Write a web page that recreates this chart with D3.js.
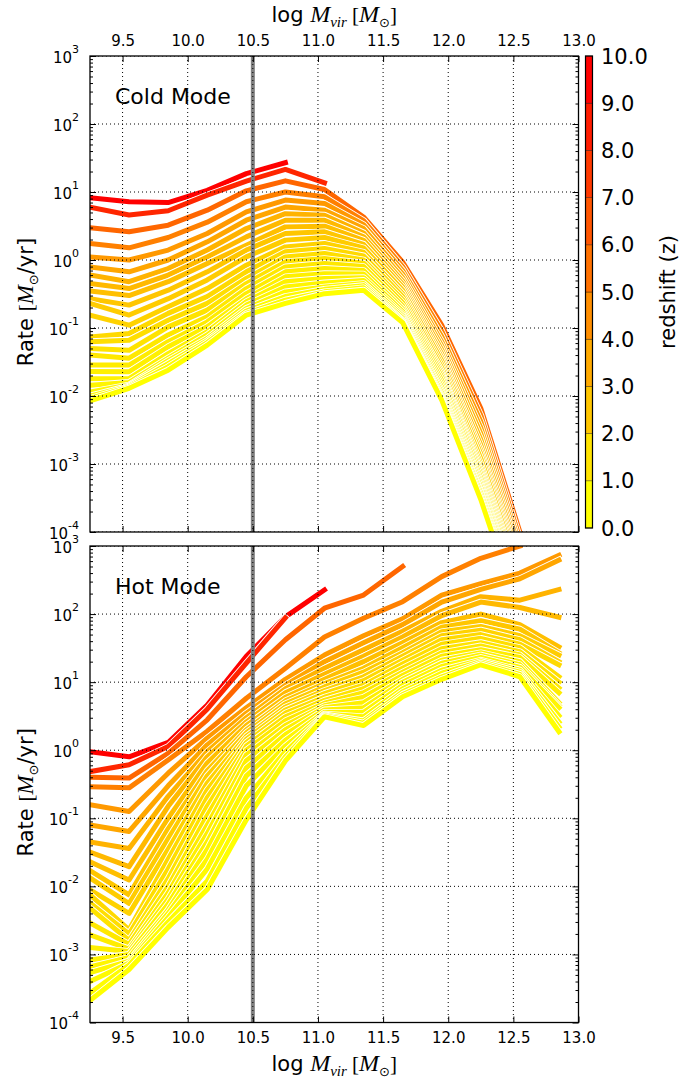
<!DOCTYPE html>
<html>
<head>
<meta charset="utf-8">
<script src="https://cdn.jsdelivr.net/npm/d3@7"></script>
<style>
body { margin: 0; background: #fff; }
text { font-family: "DejaVu Sans", sans-serif; }
</style>
</head>
<body>
<div id="chart"></div>
<script>
// halo mass bins (log Mvir)
var mass = [9.25, 9.55, 9.85, 10.15, 10.45, 10.75, 11.05, 11.35, 11.65, 11.95, 12.25, 12.55, 12.85];

// snapshot redshifts, one line per snapshot (same order as the rate rows)
var redshift = [10, 8.5, 6, 5, 4, 3.5, 3, 2.75, 2.5, 2.25, 2, 1.75, 1.5, 1.3, 1.1, 0.9, 0.75, 0.6, 0.5, 0.4, 0.3, 0.2, 0.1, 0];

// cold mode accretion rate [Msun/yr]
var coldRate = [
    [8.2, 7.2, 7.0, 10.6, 18.6, 27, null, null, null, null, null, null, null],
    [6.0, 4.6, 5.3, 9.0, 14.5, 21.5, 13.6, null, null, null, null, null, null],
    [2.97, 2.6, 3.25, 5.4, 10.4, 14.6, 10.9, 4.3, 0.93, 0.11, 0.0066, 0.0001, null],
    [1.75, 1.51, 2.14, 3.6, 7.2, 10, 8.5, 3.8, 0.80, 0.090, 0.0052, 0.00008, null],
    [1.11, 1.0, 1.40, 2.45, 5.1, 7.6, 6.8, 3.3, 0.70, 0.075, 0.0042, 0.000065, null],
    [0.79, 0.67, 1.0, 1.85, 3.85, 6.0, 5.4, 2.9, 0.62, 0.063, 0.0034, 0.000055, null],
    [0.60, 0.48, 0.75, 1.40, 2.9, 4.8, 4.56, 2.5, 0.55, 0.055, 0.0028, 0.000046, null],
    [0.45, 0.38, 0.60, 1.11, 2.19, 3.85, 3.85, 2.2, 0.49, 0.048, 0.0023, 0.00004, null],
    [0.35, 0.30, 0.48, 0.89, 1.65, 3.07, 3.14, 1.95, 0.44, 0.042, 0.0019, 0.000034, null],
    [0.27, 0.217, 0.36, 0.67, 1.4, 2.45, 2.6, 1.7, 0.40, 0.037, 0.0016, 0.00003, null],
    [0.23, 0.155, 0.27, 0.51, 1.11, 1.96, 2.14, 1.5, 0.36, 0.033, 0.0014, 0.000026, null],
    [0.155, 0.11, 0.205, 0.38, 0.84, 1.56, 1.75, 1.3, 0.32, 0.029, 0.0012, 0.000023, null],
    [0.074, 0.083, 0.164, 0.29, 0.67, 1.32, 1.48, 1.15, 0.29, 0.026, 0.001, 0.00002, null],
    [0.063, 0.066, 0.13, 0.23, 0.535, 1.11, 1.25, 1.0, 0.26, 0.023, 0.00088, 0.000018, null],
    [0.050, 0.047, 0.104, 0.183, 0.45, 0.94, 1.05, 0.9, 0.235, 0.021, 0.00078, 0.000016, null],
    [0.040, 0.036, 0.079, 0.146, 0.38, 0.79, 0.89, 0.8, 0.21, 0.019, 0.0007, 0.000014, null],
    [0.0285, 0.0285, 0.063, 0.123, 0.32, 0.67, 0.75, 0.7, 0.19, 0.017, 0.00062, 0.0000125, null],
    [0.023, 0.0227, 0.053, 0.104, 0.27, 0.565, 0.63, 0.62, 0.175, 0.015, 0.00055, 0.000011, null],
    [0.018, 0.018, 0.042, 0.088, 0.243, 0.48, 0.535, 0.55, 0.16, 0.0135, 0.0005, 0.00001, null],
    [0.0144, 0.0158, 0.036, 0.079, 0.217, 0.40, 0.46, 0.50, 0.15, 0.012, 0.00045, 0.000009, null],
    [0.0114, 0.0145, 0.033, 0.070, 0.194, 0.34, 0.40, 0.45, 0.14, 0.011, 0.0004, 0.000008, null],
    [0.0100, 0.0140, 0.030, 0.065, 0.178, 0.29, 0.37, 0.42, 0.13, 0.010, 0.00037, 0.000007, null],
    [0.0092, 0.0135, 0.027, 0.061, 0.164, 0.257, 0.34, 0.39, 0.125, 0.0093, 0.00033, 0.0000065, null],
    [0.0085, 0.013, 0.024, 0.056, 0.155, 0.23, 0.32, 0.36, 0.12, 0.0087, 0.0003, 0.000006, null]
];

// hot mode accretion rate [Msun/yr]
var hotRate = [
    [0.95, 0.80, 1.30, 4.6, 24, 91, 226, null, null, null, null, null, null],
    [0.485, 0.61, 1.13, 4.0, 19, 88, null, null, null, null, null, null, null],
    [0.40, 0.39, 0.90, 2.8, 12, 42, 122, 190, 500, null, null, null, null],
    [0.29, 0.28, 0.72, 1.9, 5.8, 16, 46, 87, 152, 355, 660, 1000, null],
    [0.158, 0.126, 0.46, 1.5, 4.2, 11, 25, 48, 85, 190, 280, 400, 730],
    [0.080, 0.064, 0.30, 1.2, 3.5, 9.0, 20, 38, 70, 150, 230, 330, 620],
    [0.045, 0.036, 0.21, 0.95, 3.0, 8.0, 16, 30, 56, 110, 180, 160, 230],
    [0.032, 0.0195, 0.15, 0.80, 2.6, 7.0, 13, 24, 46, 95, 150, 125, 90],
    [0.023, 0.0124, 0.10, 0.65, 2.3, 6.0, 11, 20, 38, 75, 100, 70, 33],
    [0.017, 0.0075, 0.07, 0.50, 2.0, 5.3, 9.5, 16, 32, 64, 80, 60, 27],
    [0.0133, 0.0056, 0.05, 0.42, 1.8, 4.8, 8.5, 14, 27, 55, 66, 48, 25],
    [0.0089, 0.004, 0.035, 0.33, 1.6, 4.3, 7.5, 12, 24, 48, 58, 42, 20],
    [0.0075, 0.0023, 0.025, 0.26, 1.45, 3.9, 6.8, 10.5, 21, 42, 50, 36, 18],
    [0.0057, 0.0020, 0.018, 0.20, 1.3, 3.5, 6.0, 9.0, 18.5, 36, 44, 32, 12],
    [0.0048, 0.0016, 0.013, 0.15, 1.15, 3.1, 5.4, 8.0, 16, 31, 38, 28, 10],
    [0.0029, 0.0014, 0.010, 0.11, 1.0, 2.7, 4.9, 7.0, 14, 27, 34, 25, 8.2],
    [0.00194, 0.0012, 0.008, 0.08, 0.85, 2.3, 4.5, 6.0, 12.5, 24, 30, 23, 7.0],
    [0.00126, 0.0011, 0.0065, 0.06, 0.70, 2.0, 4.2, 5.0, 11, 21, 27, 20, 5.0],
    [0.00083, 0.0010, 0.0055, 0.045, 0.55, 1.7, 3.9, 4.2, 10, 19, 25, 18, 4.5],
    [0.00066, 0.0009, 0.0045, 0.035, 0.42, 1.4, 3.6, 3.6, 9.0, 17, 23, 16.5, 4.2],
    [0.00054, 0.0008, 0.004, 0.025, 0.30, 1.15, 3.4, 3.1, 8.0, 15, 21, 15, 3.2],
    [0.0004, 0.00075, 0.0035, 0.018, 0.20, 0.95, 3.3, 2.7, 7.2, 13.5, 20, 14, 2.6],
    [0.00027, 0.0007, 0.003, 0.012, 0.14, 0.80, 3.2, 2.5, 6.6, 12, 19, 13, 2.2],
    [0.00021, 0.0006, 0.0025, 0.009, 0.095, 0.70, 3.1, 2.3, 6.1, 11, 18, 12, 1.87]
];

var xTicks = [9.5, 10.0, 10.5, 11.0, 11.5, 12.0, 12.5, 13.0];
var yExponents = [-4, -3, -2, -1, 0, 1, 2, 3];
var zTicks = [0, 1, 2, 3, 4, 5, 6, 7, 8, 9, 10];
var massCut = 10.5;

var width = 698, height = 1082;
var left = 90, right = 578.5;
var panels = [
    { rates: coldRate, top: 56, bottom: 532, label: "Cold Mode", topAxis: true },
    { rates: hotRate, top: 546, bottom: 1022.5, label: "Hot Mode", topAxis: false }
];

var svg = d3.select("#chart").append("svg")
    .attr("width", width)
    .attr("height", height);

var x = d3.scaleLinear().domain([9.25, 13.0]).range([left, right]);

// autumn_r colour map
function zColor(z) {
    var t = Math.max(0, Math.min(1, z / 10));
    return d3.rgb(255, Math.round(255 * (1 - t)), 0).toString();
}

var minorTicks = [];
yExponents.forEach(function (e) {
    if (e == 3) return;
    for (var k = 2; k < 10; k++) minorTicks.push(k * Math.pow(10, e));
});

function mathLabel(sel, parts) {
    parts.forEach(function (p) {
        var t = sel.append("tspan").text(p.t);
        if (p.it) t.attr("font-family", "Liberation Serif, serif").attr("font-style", "italic");
        if (p.serif) t.attr("font-family", "Liberation Serif, serif");
        if (p.size) t.attr("font-size", p.size);
        if (p.dy) t.attr("dy", p.dy);
    });
}

panels.forEach(function (p, pi) {
    var y = d3.scaleLog().domain([1e-4, 1e3]).range([p.bottom, p.top]);
    var g = svg.append("g");

    svg.append("clipPath").attr("id", "clip" + pi)
        .append("rect")
        .attr("x", left).attr("y", p.top)
        .attr("width", right - left).attr("height", p.bottom - p.top);

    var plot = g.append("g").attr("clip-path", "url(#clip" + pi + ")");

    var line = d3.line()
        .defined(function (d) { return d[1] != null; })
        .x(function (d) { return x(d[0]); })
        .y(function (d) { return y(d[1]); });

    // each line gets a thin white edge, high z drawn first
    p.rates.forEach(function (r, i) {
        var pts = mass.map(function (m, j) { return [m, r[j]]; });
        plot.append("path")
            .attr("d", line(pts))
            .attr("fill", "none")
            .attr("stroke", "#fff")
            .attr("stroke-width", 6.8)
            .attr("stroke-linejoin", "round")
            .attr("stroke-linecap", "square");
        plot.append("path")
            .attr("d", line(pts))
            .attr("fill", "none")
            .attr("stroke", zColor(redshift[i]))
            .attr("stroke-width", 5)
            .attr("stroke-linejoin", "round")
            .attr("stroke-linecap", "square");
    });

    // mass cut marker
    plot.append("line")
        .attr("x1", x(massCut)).attr("x2", x(massCut))
        .attr("y1", p.top).attr("y2", p.bottom)
        .attr("stroke", "#808080")
        .attr("stroke-width", 4);

    // dotted grid
    plot.selectAll(".gx").data(xTicks).enter().append("line")
        .attr("x1", function (d) { return x(d); }).attr("x2", function (d) { return x(d); })
        .attr("y1", p.top).attr("y2", p.bottom)
        .attr("stroke", "#000").attr("stroke-width", 1)
        .attr("stroke-dasharray", "1,3");
    plot.selectAll(".gy").data(yExponents).enter().append("line")
        .attr("x1", left).attr("x2", right)
        .attr("y1", function (d) { return y(Math.pow(10, d)); })
        .attr("y2", function (d) { return y(Math.pow(10, d)); })
        .attr("stroke", "#000").attr("stroke-width", 1)
        .attr("stroke-dasharray", "1,3");

    // ticks, pointing inward on all four sides
    var yMajor = yExponents.map(function (e) { return Math.pow(10, e); });
    var axL = g.append("g").attr("transform", "translate(" + left + ",0)")
        .call(d3.axisLeft(y).tickValues(yMajor).tickSize(-6).tickSizeOuter(0).tickPadding(12)
            .tickFormat(function () { return ""; }));
    g.append("g").attr("transform", "translate(" + left + ",0)")
        .call(d3.axisLeft(y).tickValues(minorTicks).tickSize(-3).tickSizeOuter(0).tickFormat(""));
    g.append("g").attr("transform", "translate(" + right + ",0)")
        .call(d3.axisRight(y).tickValues(yMajor).tickSize(-6).tickSizeOuter(0).tickFormat(""));
    g.append("g").attr("transform", "translate(" + right + ",0)")
        .call(d3.axisRight(y).tickValues(minorTicks).tickSize(-3).tickSizeOuter(0).tickFormat(""));

    var fmt = function (d) { return d3.format(".1f")(d); };
    g.append("g").attr("transform", "translate(0," + p.top + ")")
        .call(d3.axisTop(x).tickValues(xTicks).tickSize(-6).tickSizeOuter(0).tickPadding(10)
            .tickFormat(p.topAxis ? fmt : ""));
    g.append("g").attr("transform", "translate(0," + p.bottom + ")")
        .call(d3.axisBottom(x).tickValues(xTicks).tickSize(-6).tickSizeOuter(0).tickPadding(10)
            .tickFormat(p.topAxis ? "" : fmt));

    g.selectAll(".domain").remove();
    g.selectAll(".tick line").attr("stroke", "#000").attr("stroke-width", 1);
    g.selectAll(".tick text")
        .attr("font-family", "DejaVu Sans, sans-serif")
        .attr("font-size", 15)
        .attr("fill", "#000");

    // 10^n labels
    axL.selectAll(".tick text").each(function (d) {
        var t = d3.select(this).attr("dy", null).attr("y", 6).attr("x", -11);
        t.text("");
        t.append("tspan").text("10");
        t.append("tspan").attr("dy", -10).attr("font-size", 11)
            .text(String(Math.round(Math.log10(d))));
    });

    // frame
    g.append("rect")
        .attr("x", left).attr("y", p.top)
        .attr("width", right - left).attr("height", p.bottom - p.top)
        .attr("fill", "none").attr("stroke", "#000").attr("stroke-width", 1.3);

    g.append("text")
        .attr("x", 115).attr("y", p.top + 48)
        .attr("font-size", 22)
        .text(p.label);

    var yl = g.append("text")
        .attr("transform", "translate(33," + ((p.top + p.bottom) / 2 + 8) + ") rotate(-90)")
        .attr("text-anchor", "middle")
        .attr("font-size", 21);
    mathLabel(yl, [
        { t: "Rate " },
        { t: "[", serif: true },
        { t: "M", it: true, size: 23 },
        { t: "\u2299", size: 13, dy: 5 },
        { t: "/yr]", dy: -5 }
    ]);
});

// x axis titles
[{ y: 22 }, { y: 1071 }].forEach(function (d) {
    var t = svg.append("text")
        .attr("x", (left + right) / 2)
        .attr("y", d.y)
        .attr("text-anchor", "middle")
        .attr("font-size", 21);
    mathLabel(t, [
        { t: "log " },
        { t: "M", it: true, size: 24 },
        { t: "vir", it: true, size: 15, dy: 5 },
        { t: " [", serif: true, dy: -5 },
        { t: "M", it: true, size: 24 },
        { t: "\u2299", size: 13, dy: 5 },
        { t: "]", serif: true, dy: -5 }
    ]);
});

// colour bar
var cbLeft = 585.5, cbWidth = 7;
var zs = d3.scaleLinear().domain([0, 10]).range([528, 56]);
var cb = svg.append("g");
cb.selectAll("rect.bin").data(d3.range(10)).enter().append("rect")
    .attr("x", cbLeft)
    .attr("y", function (d) { return zs(d + 1); })
    .attr("width", cbWidth)
    .attr("height", function (d) { return zs(d) - zs(d + 1); })
    .attr("fill", function (d) { return zColor(d * 10 / 9); })
    .attr("stroke", "rgba(0,0,0,0.55)")
    .attr("stroke-width", 0.6);
cb.append("rect")
    .attr("x", cbLeft).attr("y", zs(10))
    .attr("width", cbWidth).attr("height", zs(0) - zs(10))
    .attr("fill", "none").attr("stroke", "#000").attr("stroke-width", 1.2);
cb.selectAll("text.zt").data(zTicks).enter().append("text")
    .attr("x", 601)
    .attr("y", function (d) { return zs(d); })
    .attr("dy", "0.36em")
    .attr("font-size", 21)
    .text(function (d) { return d.toFixed(1); });
cb.append("text")
    .attr("transform", "translate(675," + ((zs(0) + zs(10)) / 2) + ") rotate(-90)")
    .attr("text-anchor", "middle")
    .attr("font-size", 21)
    .text("redshift (z)");
</script>
</body>
</html>
